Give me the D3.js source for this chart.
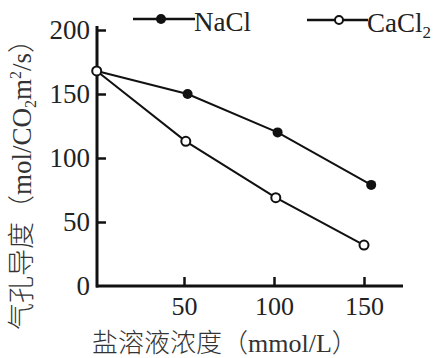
<!DOCTYPE html>
<html><head><meta charset="utf-8">
<script src="https://cdn.jsdelivr.net/npm/d3@7"></script>
<style>body{margin:0;background:#fff}svg{display:block}</style>
</head><body>
<svg id="c" width="440" height="358"></svg>
<script>
const concentrations = [1.5, 52, 102, 154];
const concentrationsCa = [1.5, 51, 101, 150];
const naclValues = [168, 150, 120, 79];
const cacl2Values = [168, 113, 69, 32];
const xTicks = [50, 100, 150];
const yTicks = [0, 50, 100, 150, 200];

const svg = d3.select("#c");
const serif = "'Liberation Serif','Times New Roman',serif";
const x = d3.scaleLinear().domain([0, 150]).range([94, 364]);
const y = d3.scaleLinear().domain([0, 200]).range([286, 30]);
const axisX0 = 97;

// x axis
const gx = svg.append("g").attr("transform", `translate(0,${y(0)})`)
  .call(d3.axisBottom(x).tickValues(xTicks).tickSizeInner(-9).tickSizeOuter(0).tickPadding(10).tickFormat(d3.format("d")));
gx.select(".domain").remove();
gx.append("line").attr("x1", axisX0 - 1).attr("x2", 403).attr("stroke", "#111").attr("stroke-width", 3);
gx.selectAll(".tick line").attr("stroke", "#111").attr("stroke-width", 2.5);
gx.selectAll(".tick text").attr("font-family", serif).attr("font-size", 26).attr("fill", "#222").attr("dy", "0.72em");

// y axis
const gy = svg.append("g").attr("transform", `translate(${axisX0},0)`)
  .call(d3.axisLeft(y).tickValues(yTicks).tickSizeInner(-9).tickSizeOuter(0).tickPadding(7).tickFormat(d3.format("d")));
gy.select(".domain").remove();
gy.append("line").attr("y1", y(0) + 1.5).attr("y2", 26).attr("stroke", "#111").attr("stroke-width", 3);
gy.selectAll(".tick line").attr("stroke", "#111").attr("stroke-width", 2.5);
gy.selectAll(".tick").filter(d => d === 0).select("line").remove();
gy.selectAll(".tick text").attr("font-family", serif).attr("font-size", 27).attr("fill", "#222");

const line = d3.line();
const naPts = concentrations.map((c, i) => [x(c), y(naclValues[i])]);
const caPts = concentrationsCa.map((c, i) => [x(c), y(cacl2Values[i])]);

svg.append("path").attr("d", line(naPts)).attr("fill", "none").attr("stroke", "#111").attr("stroke-width", 2);
svg.append("path").attr("d", line(caPts)).attr("fill", "none").attr("stroke", "#111").attr("stroke-width", 2);

svg.selectAll(".na").data(naPts.slice(1)).join("circle")
  .attr("cx", d => d[0]).attr("cy", d => d[1]).attr("r", 5).attr("fill", "#111");
svg.selectAll(".ca").data(caPts).join("circle")
  .attr("cx", d => d[0]).attr("cy", d => d[1]).attr("r", 4.5).attr("fill", "#fff").attr("stroke", "#111").attr("stroke-width", 2);

// legend
const lg = svg.append("g");
lg.append("line").attr("x1", 133).attr("x2", 195).attr("y1", 19).attr("y2", 19).attr("stroke", "#111").attr("stroke-width", 2.5);
lg.append("circle").attr("cx", 161).attr("cy", 19).attr("r", 5).attr("fill", "#111");
lg.append("text").attr("x", 194).attr("y", 31).attr("font-family", serif).attr("font-size", 27).attr("fill", "#222").text("NaCl");
lg.append("line").attr("x1", 307).attr("x2", 368).attr("y1", 20).attr("y2", 20).attr("stroke", "#111").attr("stroke-width", 2.5);
lg.append("circle").attr("cx", 339).attr("cy", 20).attr("r", 4).attr("fill", "#fff").attr("stroke", "#111").attr("stroke-width", 2);
const ct = lg.append("text").attr("x", 367).attr("y", 32).attr("font-family", serif).attr("font-size", 27).attr("fill", "#222");
ct.append("tspan").text("CaCl");
ct.append("tspan").attr("font-size", 17).attr("dy", 6).text("2");

// axis titles
svg.append("text").attr("x", 92).attr("y", 352).attr("font-family", serif).attr("font-size", 26).attr("fill", "#333")
  .call(t => { t.append("tspan").attr("font-family", "'Noto Sans CJK SC',serif").attr("font-weight", 300).text("盐溶液浓度（"); t.append("tspan").text("mmol/L"); t.append("tspan").attr("font-family", "'Noto Sans CJK SC',serif").attr("font-weight", 300).text("）"); });
const yt = svg.append("text").attr("transform", "translate(31,330) rotate(-90)").attr("font-family", serif).attr("font-size", 27).attr("fill", "#333");
yt.append("tspan").attr("font-family", "'Noto Sans CJK SC',serif").attr("font-weight", 300).text("气孔导度（");
yt.append("tspan").text("mol/CO");
yt.append("tspan").attr("font-size", 16).attr("dy", 5).text("2");
yt.append("tspan").attr("dy", -5).text("m");
yt.append("tspan").attr("font-size", 16).attr("dy", -10).text("2");
yt.append("tspan").attr("dy", 10).text("/s");
yt.append("tspan").attr("font-family", "'Noto Sans CJK SC',serif").attr("font-weight", 300).text("）");
</script>
</body></html>
